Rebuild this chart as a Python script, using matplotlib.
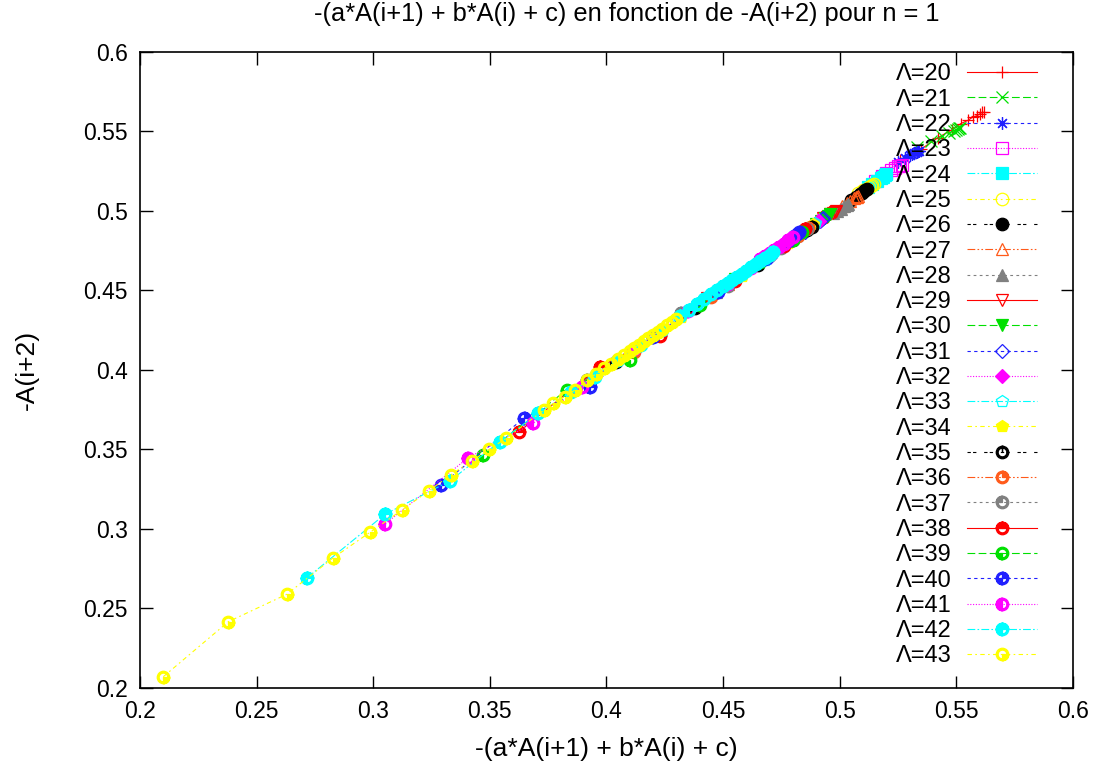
import numpy as np
import matplotlib
matplotlib.use("Agg")
import matplotlib.pyplot as plt
from matplotlib.path import Path

plt.rcParams["font.family"] = ["Liberation Sans", "DejaVu Sans"]

# --- data ------------------------------------------------------------------
lambdas = list(range(20, 44))

x20 = [0.526, 0.535, 0.542, 0.548, 0.552, 0.555, 0.557, 0.559, 0.560, 0.561, 0.562]
y20 = [0.532, 0.539, 0.546, 0.551, 0.555, 0.557, 0.559, 0.560, 0.561, 0.562, 0.562]
x21 = [0.533, 0.539, 0.544, 0.547, 0.549, 0.550, 0.5505, 0.551, 0.5515]
y21 = [0.540, 0.544, 0.547, 0.549, 0.5505, 0.551, 0.5515, 0.552, 0.552]
x22 = [0.525, 0.528, 0.530, 0.531, 0.532, 0.533, 0.5335, 0.534]
y22 = [0.531, 0.533, 0.535, 0.536, 0.5365, 0.537, 0.5375, 0.538]
x23 = [0.515, 0.518, 0.520, 0.522, 0.5235, 0.525, 0.526, 0.5265]
y23 = [0.519, 0.522, 0.524, 0.526, 0.527, 0.528, 0.5285, 0.529]
x24 = [0.512, 0.514, 0.516, 0.5175, 0.5185, 0.5195, 0.520]
y24 = [0.515, 0.517, 0.519, 0.5205, 0.5215, 0.5225, 0.523]
x25 = [0.508, 0.510, 0.5115, 0.5125, 0.5135, 0.514, 0.5145]
y25 = [0.511, 0.513, 0.514, 0.515, 0.516, 0.5165, 0.517]
x26 = [0.505, 0.507, 0.5085, 0.5095, 0.5105, 0.511, 0.5115]
y26 = [0.507, 0.509, 0.5105, 0.5115, 0.5125, 0.513, 0.5135]
x27 = [0.452, 0.501, 0.503, 0.5045, 0.506, 0.507, 0.5075, 0.508]
y27 = [0.454, 0.503, 0.505, 0.5065, 0.508, 0.5085, 0.509, 0.5095]
x28 = [0.447, 0.497, 0.499, 0.5005, 0.502, 0.503, 0.5035]
y28 = [0.449, 0.4985, 0.500, 0.5015, 0.503, 0.504, 0.5045]
x29 = [0.443, 0.493, 0.4945, 0.496, 0.497, 0.498, 0.4985]
y29 = [0.445, 0.4955, 0.4965, 0.498, 0.499, 0.4995, 0.500]
x30 = [0.455, 0.490, 0.492, 0.4935, 0.495, 0.496]
y30 = [0.457, 0.492, 0.494, 0.4955, 0.497, 0.498]
x31 = [0.449, 0.470, 0.485, 0.4895, 0.4915, 0.4925, 0.493]
y31 = [0.451, 0.471, 0.487, 0.492, 0.494, 0.495, 0.4955]
x32 = [0.465, 0.483, 0.488, 0.4895, 0.4905, 0.491]
y32 = [0.467, 0.485, 0.4905, 0.492, 0.4935, 0.494]
x33 = [0.445, 0.468, 0.482, 0.487, 0.489, 0.4895]
y33 = [0.4465, 0.469, 0.484, 0.489, 0.4915, 0.4925]
x34 = [0.432, 0.458, 0.478, 0.486, 0.4885]
y34 = [0.433, 0.459, 0.480, 0.4885, 0.4915]
x35 = [0.404, 0.438, 0.465, 0.480, 0.486, 0.488]
y35 = [0.405, 0.439, 0.466, 0.482, 0.488, 0.490]
x36 = [0.412, 0.445, 0.470, 0.482, 0.4865]
y36 = [0.411, 0.446, 0.472, 0.484, 0.4893]
x37 = [0.3915, 0.432, 0.452, 0.475, 0.4859]
y37 = [0.3937, 0.4356, 0.453, 0.477, 0.4887]
x38 = [0.3625, 0.3972, 0.4229, 0.455, 0.476, 0.4851]
y38 = [0.3612, 0.4021, 0.4214, 0.456, 0.478, 0.4884]
x39 = [0.3472, 0.3829, 0.410, 0.440, 0.466, 0.480, 0.4837]
y39 = [0.3465, 0.3874, 0.4063, 0.441, 0.468, 0.482, 0.487]
x40 = [0.3290, 0.3646, 0.3929, 0.420, 0.448, 0.468, 0.478, 0.4805, 0.4815, 0.4825]
y40 = [0.3277, 0.3696, 0.3895, 0.421, 0.449, 0.470, 0.481, 0.4845, 0.4855, 0.4865]
x41 = [0.3052, 0.3407, 0.3686, 0.3894, 0.412, 0.435, 0.452, 0.462,
       0.466, 0.468, 0.470, 0.472, 0.474, 0.476, 0.478, 0.480]
y41 = [0.3033, 0.3448, 0.3665, 0.3895, 0.413, 0.437, 0.454, 0.464,
       0.4695, 0.4715, 0.4735, 0.4755, 0.4775, 0.4795, 0.4815, 0.4835]
x42 = [0.2717, 0.3050, 0.3329, 0.3543, 0.3708, 0.3850, 0.3951, 0.405, 0.415, 0.424,
       0.4315, 0.4355, 0.439, 0.442, 0.445, 0.4475, 0.450, 0.452, 0.454, 0.456,
       0.458, 0.460, 0.462, 0.464, 0.466, 0.468, 0.470, 0.4715]
y42 = [0.2694, 0.3092, 0.3302, 0.3550, 0.3728, 0.3864, 0.3958, 0.406, 0.416, 0.425,
       0.4340, 0.4380, 0.4415, 0.4445, 0.4475, 0.4500, 0.4525, 0.4545, 0.4565, 0.4585,
       0.4605, 0.4625, 0.4645, 0.4665, 0.4685, 0.4705, 0.4725, 0.4740]
x43 = [0.2100, 0.2379, 0.2629, 0.2826, 0.2986, 0.3123, 0.3238, 0.3332, 0.3422, 0.3498,
       0.3570, 0.3732, 0.3772, 0.3822, 0.3865, 0.3915, 0.3955, 0.399, 0.402, 0.405,
       0.4075, 0.410, 0.412, 0.414, 0.416, 0.418, 0.420, 0.422, 0.424, 0.426, 0.428, 0.430]
y43 = [0.2071, 0.2417, 0.2589, 0.2816, 0.2979, 0.3119, 0.3239, 0.3340, 0.3428, 0.3501,
       0.3570, 0.3748, 0.3790, 0.3832, 0.3874, 0.3935, 0.3975, 0.401, 0.404, 0.407,
       0.4095, 0.412, 0.414, 0.416, 0.418, 0.420, 0.422, 0.424, 0.426, 0.428, 0.430, 0.432]

xs = [x20, x21, x22, x23, x24, x25, x26, x27, x28, x29, x30, x31,
      x32, x33, x34, x35, x36, x37, x38, x39, x40, x41, x42, x43]
ys = [y20, y21, y22, y23, y24, y25, y26, y27, y28, y29, y30, y31,
      y32, y33, y34, y35, y36, y37, y38, y39, y40, y41, y42, y43]

# --- gnuplot-like styles -----------------------------------------------------
colors = ["#ff0000", "#00e000", "#2020ff", "#ff00ff", "#00ffff",
          "#ffff00", "#000000", "#ff5a1a", "#808080"]
dashes = ["-", (0, (7, 3)), (0, (3, 3)), (0, (1, 1.5)), (0, (7, 2, 1.5, 2)),
          (0, (4, 3, 1.5, 3)), (0, (3, 2, 3, 7)), (0, (7, 2, 1.5, 2, 1.5, 2)), (0, (2.5, 3))]


def quad_circle(spans):
    """ring marker with some angular sectors filled in"""
    circ = Path.unit_circle()
    v = circ.vertices[:-1]
    c = circ.codes[:-1]
    inner = v[::-1] * 0.7
    ring = Path(np.concatenate([v, [v[0]], inner, [inner[0]]]),
                np.concatenate([c, [Path.CLOSEPOLY], c, [Path.CLOSEPOLY]]))
    parts = [ring] + [Path.wedge(a, b) for a, b in spans]
    return Path.make_compound_path(*parts)


UR, UL, LL, LR = (0, 90), (90, 180), (180, 270), (270, 360)
# (marker, filled)
markers = [
    ("+", False), ("x", False), ((8, 2, 0), False), ("s", False), ("s", True),
    ("o", False), ("o", True), ("^", False), ("^", True), ("v", False),
    ("v", True), ("D", False), ("D", True), ("p", False), ("p", True),
    (quad_circle([(86, 94)]), True), (quad_circle([UR]), True),
    (quad_circle([UL]), True), (quad_circle([UR, UL]), True),
    (quad_circle([LL]), True), (quad_circle([UR, LL]), True),
    (quad_circle([UL, LL]), True), (quad_circle([UR, UL, LL]), True),
    (quad_circle([LR]), True),
]

fig = plt.figure(figsize=(10.99, 7.71), dpi=100)
ax = fig.add_axes([0.1274, 0.1077, 0.8489, 0.8249])

for i, lam in enumerate(lambdas):
    col = colors[i % 9]
    mk, filled = markers[i]
    ms = 9
    if isinstance(mk, str) and mk == "D":
        ms = 7
    elif isinstance(mk, str) and mk == "s":
        ms = 8
    ax.plot(xs[i], ys[i], color=col, linestyle=dashes[i % 9], linewidth=0.8,
            marker=mk, markersize=ms, markeredgewidth=0.9,
            markerfacecolor=col if filled else "none", markeredgecolor=col,
            label=f"Λ={lam}")

ax.set_xlim(0.2, 0.6)
ax.set_ylim(0.2, 0.6)
ax.set_xticks(np.arange(0.2, 0.601, 0.05))
ax.set_yticks(np.arange(0.2, 0.601, 0.05))
ax.xaxis.set_major_formatter(plt.FuncFormatter(lambda v, p: f"{v:g}"))
ax.yaxis.set_major_formatter(plt.FuncFormatter(lambda v, p: f"{v:g}"))
ax.tick_params(direction="in", length=9, width=1, top=True, right=True,
               labelsize=16.5, pad=9)
for s in ax.spines.values():
    s.set_linewidth(1.2)

ax.set_title("-(a*A(i+1) + b*A(i) + c) en fonction de -A(i+2) pour n = 1",
             fontsize=18.3, pad=22, x=0.522)
ax.set_xlabel("-(a*A(i+1) + b*A(i) + c)", fontsize=19, labelpad=10)
ax.set_ylabel("-A(i+2)", fontsize=19, labelpad=32)

ax.legend(loc="upper right", bbox_to_anchor=(0.9614, 0.982), frameon=False,
          markerfirst=False, fontsize=17, handlelength=2.97, handletextpad=0.64,
          labelspacing=0.14, borderaxespad=0, borderpad=0)

fig.savefig("out.png", dpi=100)
